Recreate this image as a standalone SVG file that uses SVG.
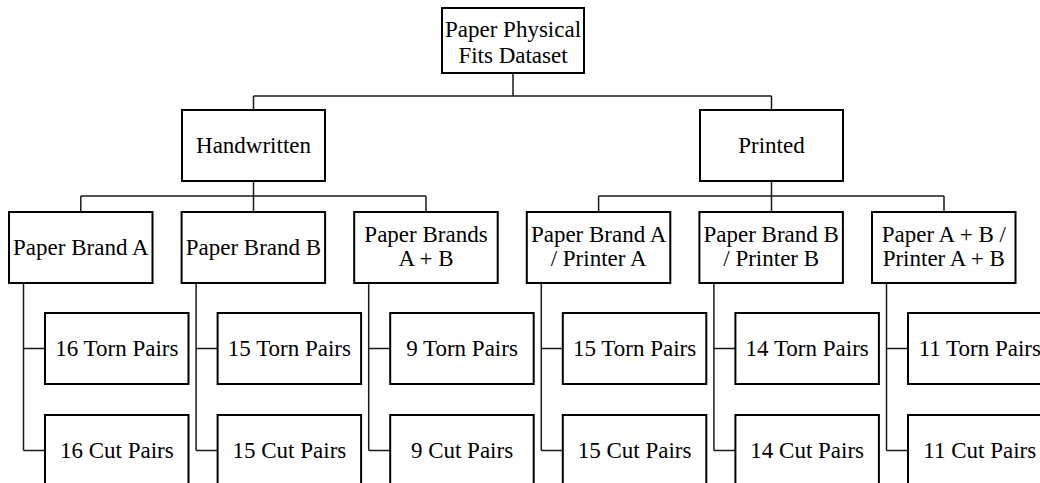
<svg xmlns="http://www.w3.org/2000/svg" width="1040" height="483" viewBox="0 0 1040 483">
  <style>
    .box { fill: #fff; stroke: #000; stroke-width: 2; }
    .wire { fill: none; stroke: #1a1a1a; stroke-width: 1.5; }
    .lbl { font-family: 'Liberation Serif', Tinos, 'Times New Roman', Times, 'DejaVu Serif', serif; font-size: 23px; fill: #000; text-anchor: middle; }
  </style>
  <rect width="1040" height="483" fill="#fff"/>

  <!-- connectors -->
  <g id="connectors" class="wire">
    <path d="M513 73V96M253.5 96H771.5M253.5 96V110M771.5 96V110"/>
    <path d="M253.5 181V196M80.8 196H426M80.8 196V212M253.5 196V212M426 196V212"/>
    <path d="M771.5 181V196M598.6 196H944M598.6 196V212M771.5 196V212M944 196V212"/>
    <path d="M23.5 283V450.5M23.5 348.5H45M23.5 450.5H45"/>
    <path d="M196.1 283V450.5M196.1 348.5H217.6M196.1 450.5H217.6"/>
    <path d="M368.7 283V450.5M368.7 348.5H390.2M368.7 450.5H390.2"/>
    <path d="M541.3 283V450.5M541.3 348.5H562.8M541.3 450.5H562.8"/>
    <path d="M713.9 283V450.5M713.9 348.5H735.4M713.9 450.5H735.4"/>
    <path d="M886.5 283V450.5M886.5 348.5H908M886.5 450.5H908"/>
  </g>

  <g class="lbl" font-family="Liberation Serif, serif">
  <!-- root -->
  <g id="root">
    <rect class="box" x="442" y="8" width="142" height="65"/>
    <text x="513" y="37">Paper Physical</text>
    <text x="513" y="63">Fits Dataset</text>
  </g>

  <!-- categories -->
  <g id="handwritten">
    <rect class="box" x="182" y="110" width="143" height="71"/>
    <text x="253.5" y="153">Handwritten</text>
  </g>
  <g id="printed">
    <rect class="box" x="700" y="110" width="143" height="71"/>
    <text x="771.5" y="153">Printed</text>
  </g>

  <!-- paper / printer groups -->
  <g id="brand-a">
    <rect class="box" x="9" y="212" width="143.5" height="71"/>
    <text x="80.8" y="255">Paper Brand A</text>
  </g>
  <g id="brand-b">
    <rect class="box" x="181.6" y="212" width="143.5" height="71"/>
    <text x="253.4" y="255">Paper Brand B</text>
  </g>
  <g id="brands-ab">
    <rect class="box" x="354.2" y="212" width="143.5" height="71"/>
    <text x="426" y="242">Paper Brands</text>
    <text x="426" y="266">A + B</text>
  </g>
  <g id="brand-a-printer-a">
    <rect class="box" x="526.8" y="212" width="143.5" height="71"/>
    <text x="598.6" y="242">Paper Brand A</text>
    <text x="598.6" y="266">/ Printer A</text>
  </g>
  <g id="brand-b-printer-b">
    <rect class="box" x="699.4" y="212" width="143.5" height="71"/>
    <text x="771.2" y="242">Paper Brand B</text>
    <text x="771.2" y="266">/ Printer B</text>
  </g>
  <g id="ab-printer-ab">
    <rect class="box" x="872" y="212" width="143.5" height="71"/>
    <text x="943.8" y="242">Paper A + B /</text>
    <text x="943.8" y="266">Printer A + B</text>
  </g>

  <!-- pair counts -->
  <g id="torn-1"><rect class="box" x="45" y="313" width="143.5" height="71"/><text x="116.8" y="356">16 Torn Pairs</text></g>
  <g id="cut-1"><rect class="box" x="45" y="415" width="143.5" height="71"/><text x="116.8" y="458">16 Cut Pairs</text></g>
  <g id="torn-2"><rect class="box" x="217.6" y="313" width="143.5" height="71"/><text x="289.4" y="356">15 Torn Pairs</text></g>
  <g id="cut-2"><rect class="box" x="217.6" y="415" width="143.5" height="71"/><text x="289.4" y="458">15 Cut Pairs</text></g>
  <g id="torn-3"><rect class="box" x="390.2" y="313" width="143.5" height="71"/><text x="462" y="356">9 Torn Pairs</text></g>
  <g id="cut-3"><rect class="box" x="390.2" y="415" width="143.5" height="71"/><text x="462" y="458">9 Cut Pairs</text></g>
  <g id="torn-4"><rect class="box" x="562.8" y="313" width="143.5" height="71"/><text x="634.6" y="356">15 Torn Pairs</text></g>
  <g id="cut-4"><rect class="box" x="562.8" y="415" width="143.5" height="71"/><text x="634.6" y="458">15 Cut Pairs</text></g>
  <g id="torn-5"><rect class="box" x="735.4" y="313" width="143.5" height="71"/><text x="807.2" y="356">14 Torn Pairs</text></g>
  <g id="cut-5"><rect class="box" x="735.4" y="415" width="143.5" height="71"/><text x="807.2" y="458">14 Cut Pairs</text></g>
  <g id="torn-6"><rect class="box" x="908" y="313" width="143.5" height="71"/><text x="979.8" y="356">11 Torn Pairs</text></g>
  <g id="cut-6"><rect class="box" x="908" y="415" width="143.5" height="71"/><text x="979.8" y="458">11 Cut Pairs</text></g>
  </g>
</svg>
